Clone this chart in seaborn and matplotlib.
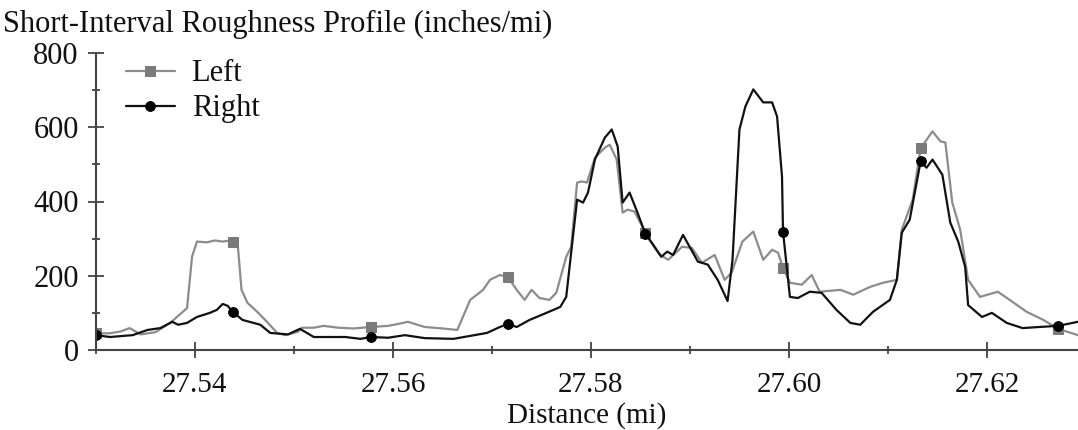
import numpy as np
import pandas as pd
import matplotlib
matplotlib.use("Agg")
import matplotlib.pyplot as plt
import seaborn as sns
from matplotlib.ticker import MultipleLocator

# ---- data ----
left_mi = [27.5300, 27.5314, 27.5325, 27.5334, 27.5345, 27.5360, 27.5375, 27.5392, 27.5397, 27.5402,
           27.5412, 27.5420, 27.5428, 27.5433, 27.5438, 27.5443, 27.5447, 27.5453, 27.5464, 27.5473,
           27.5483, 27.5491, 27.5504, 27.5508, 27.5520, 27.5530, 27.5545, 27.5560, 27.5578, 27.5595,
           27.5605, 27.5615, 27.5632, 27.5650, 27.5665, 27.5678, 27.5691, 27.5698, 27.5708, 27.5716,
           27.5725, 27.5733, 27.5740, 27.5748, 27.5758, 27.5765, 27.5775, 27.5780, 27.5786, 27.5791,
           27.5796, 27.5804, 27.5814, 27.5819, 27.5826, 27.5832, 27.5837, 27.5844, 27.5855, 27.5870,
           27.5878, 27.5892, 27.5902, 27.5912, 27.5925, 27.5935, 27.5942, 27.5953, 27.5964, 27.5974,
           27.5983, 27.5989, 27.5994, 27.6001, 27.6013, 27.6023, 27.6031, 27.6052, 27.6065, 27.6082,
           27.6095, 27.6109, 27.6114, 27.6125, 27.6133, 27.6145, 27.6153, 27.6158, 27.6165, 27.6173,
           27.6181, 27.6193, 27.6211, 27.6223, 27.6240, 27.6257, 27.6272, 27.6292]
left_val = [45, 45, 50, 59, 42, 48, 73, 113, 251, 292,
            290, 295, 292, 294, 292, 290, 162, 127, 100, 75,
            46, 40, 49, 60, 60, 65, 60, 58, 62, 65,
            70, 76, 62, 58, 54, 135, 162, 189, 202, 197,
            162, 135, 162, 140, 135, 154, 251, 278, 451, 454,
            451, 518, 545, 553, 513, 370, 378, 373, 316, 256,
            243, 278, 275, 235, 256, 189, 208, 292, 319, 243,
            270, 262, 221, 181, 176, 202, 157, 162, 149, 170,
            181, 189, 324, 405, 543, 589, 562, 559, 397, 324,
            189, 143, 157, 135, 103, 81, 57, 40]

right_mi = [27.5300, 27.5314, 27.5337, 27.5352, 27.5365, 27.5377, 27.5383, 27.5392, 27.5402, 27.5415,
            27.5422, 27.5428, 27.5433, 27.5438, 27.5448, 27.5466, 27.5476, 27.5494, 27.5506, 27.5520,
            27.5552, 27.5567, 27.5578, 27.5595, 27.5612, 27.5632, 27.5661, 27.5695, 27.5708, 27.5716,
            27.5725, 27.5738, 27.5755, 27.5769, 27.5775, 27.5780, 27.5786, 27.5792, 27.5797, 27.5804,
            27.5814, 27.5821, 27.5827, 27.5832, 27.5839, 27.5847, 27.5855, 27.5871, 27.5877, 27.5883,
            27.5893, 27.5908, 27.5918, 27.5928, 27.5938, 27.5943, 27.5950, 27.5956, 27.5964, 27.5974,
            27.5983, 27.5988, 27.5993, 27.5994, 27.6001, 27.6009, 27.6021, 27.6033, 27.6048, 27.6062,
            27.6072, 27.6085, 27.6102, 27.6109, 27.6114, 27.6122, 27.6133, 27.6139, 27.6145, 27.6155,
            27.6163, 27.6171, 27.6178, 27.6181, 27.6195, 27.6205, 27.6220, 27.6236, 27.6253, 27.6272,
            27.6292]
right_val = [40, 35, 40, 54, 59, 76, 68, 73, 89, 100,
             108, 124, 119, 103, 81, 68, 46, 42, 57, 35,
             35, 30, 35, 33, 40, 32, 30, 46, 62, 70,
             62, 81, 100, 116, 143, 262, 405, 397, 424, 513,
             572, 594, 548, 397, 424, 370, 313, 251, 265, 256,
             310, 238, 230, 189, 132, 243, 594, 656, 702, 667,
             667, 629, 467, 319, 143, 140, 157, 154, 108, 73,
             68, 103, 135, 189, 316, 351, 508, 491, 513, 472,
             343, 292, 224, 121, 89, 100, 73, 59, 62, 65,
             76]

marker_mi = [27.5300, 27.5438, 27.5578, 27.5716, 27.5855, 27.5994, 27.6133, 27.6272]
y_ticks = [0, 200, 400, 600, 800]
x_ticks = [27.54, 27.56, 27.58, 27.60, 27.62]

# ---- style ----
sns.set_style("ticks")
plt.rcParams["font.family"] = ["Liberation Serif", "DejaVu Serif"]
FS = 22
FS_X = 21
plt.rcParams["font.size"] = FS

W, H = 1078, 430
fig = plt.figure(figsize=(W / 100, H / 100), dpi=100)
ax = fig.add_axes([96 / W, 1 - 350 / H, 1 - 96 / W, (350 - 53) / H])

left_df = pd.DataFrame({"Distance": left_mi, "IRI": left_val})
right_df = pd.DataFrame({"Distance": right_mi, "IRI": right_val})


def mark_idx(xs):
    xs = np.asarray(xs)
    return [int(np.argmin(np.abs(xs - m))) for m in marker_mi]


sns.lineplot(data=left_df, x="Distance", y="IRI", ax=ax, sort=False,
             color="#8c8c8c", lw=1.6, marker="s", markersize=7,
             markerfacecolor="#7a7a7a", markeredgecolor="#7a7a7a",
             markevery=mark_idx(left_mi), label="Left")
sns.lineplot(data=right_df, x="Distance", y="IRI", ax=ax, sort=False,
             color="#111111", lw=1.6, marker="o", markersize=7,
             markerfacecolor="black", markeredgecolor="black",
             markevery=mark_idx(right_mi), label="Right")

ax.set_xlim(27.53, 27.6292)
ax.set_ylim(0, 800)
ax.set_xticks(x_ticks)
ax.set_xticklabels([f"{v:.2f}" for v in x_ticks])
ax.set_yticks(y_ticks)
ax.set_yticklabels([str(v) for v in y_ticks])
ax.xaxis.set_minor_locator(MultipleLocator(0.01))
ax.yaxis.set_minor_locator(MultipleLocator(100))

spine_c = "#444444"
sns.despine(ax=ax, top=True, right=True)
for s in ("left", "bottom"):
    ax.spines[s].set_color(spine_c)
    ax.spines[s].set_linewidth(1.5)
ax.tick_params(which="major", direction="inout", length=11, width=1.3,
               color=spine_c, labelcolor="#111111")
ax.tick_params(which="minor", direction="inout", length=6, width=1.3, color=spine_c)
ax.tick_params(axis="y", which="major", pad=7, labelsize=FS)
ax.tick_params(axis="x", which="major", pad=10, labelsize=FS_X)

ax.set_xlabel("Distance (mi)", fontsize=FS_X, color="#111111", labelpad=3)
ax.set_ylabel("")

leg = ax.legend(loc="upper left", bbox_to_anchor=(0.018, 1.02), frameon=False,
                handlelength=1.6, handletextpad=0.55, labelspacing=0.2,
                fontsize=FS, borderaxespad=0.0)
for t in leg.get_texts():
    t.set_color("#111111")

fig.text(3 / W, 1 - 32 / H, "Short-Interval Roughness Profile (inches/mi)",
         ha="left", va="baseline", fontsize=FS, color="#111111")

ax.set_facecolor("white")
fig.patch.set_facecolor("white")
fig.savefig("out.png", dpi=100)
